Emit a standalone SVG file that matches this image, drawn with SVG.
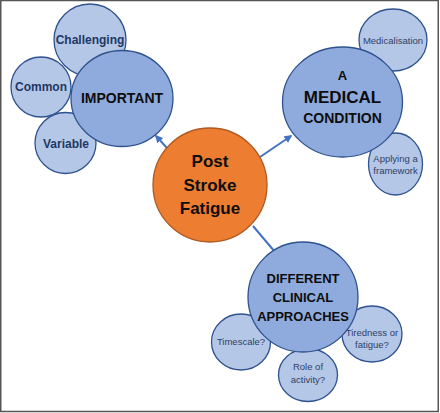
<svg xmlns="http://www.w3.org/2000/svg" width="440" height="413" viewBox="0 0 440 413">
<defs>
<style>
.main{fill:#8FAADC;stroke:#2F528F;stroke-width:1.3}
.sub{fill:#B4C7E7;stroke:#2F528F;stroke-width:1.3}
.core{fill:#ED7D31;stroke:#AE5A21;stroke-width:1.3}
.t{font-family:"Liberation Sans",Arial,sans-serif;text-anchor:middle}
.big{font-weight:bold;fill:#0D0D0D}
.sb{font-weight:bold;fill:#1F3864;font-size:12px}
.sr{fill:#2F3F66;font-size:9.5px}
.con{stroke:#4472C4;stroke-width:2;fill:none}
</style>
<marker id="ah" viewBox="0 0 10 10" refX="8" refY="5" markerWidth="4" markerHeight="4" orient="auto">
<path d="M0,0 L10,5 L0,10 z" fill="#4472C4"/>
</marker>
</defs>
<rect x="0.75" y="0.5" width="437.5" height="411" fill="#FFFFFF" stroke="#555555" stroke-width="1.5"/>
<g id="connectors">
<line class="con" x1="167" y1="148" x2="156" y2="136" marker-end="url(#ah)"/>
<line class="con" x1="260" y1="157" x2="291" y2="136" marker-end="url(#ah)"/>
<line class="con" x1="253" y1="226" x2="275" y2="252"/>
</g>
<g id="challenging"><circle class="sub" cx="90" cy="40" r="36"/><text class="t sb" x="90" y="44">Challenging</text></g>
<g id="common"><circle class="sub" cx="41" cy="87" r="30"/><text class="t sb" x="41" y="91">Common</text></g>
<g id="variable"><circle class="sub" cx="65.5" cy="143" r="30.5"/><text class="t sb" x="66" y="148">Variable</text></g>
<g id="important"><ellipse class="main" cx="122" cy="98.5" rx="51" ry="48"/><text class="t big" x="122" y="103" font-size="14">IMPORTANT</text></g>
<g id="medicalisation"><ellipse class="sub" cx="393" cy="40" rx="34" ry="31"/><text class="t sr" x="393" y="43.5">Medicalisation</text></g>
<g id="framework"><ellipse class="sub" cx="395.5" cy="164" rx="27" ry="31"/><text class="t sr" x="395.5" y="161.5">Applying a</text><text class="t sr" x="395.5" y="173.5">framework</text></g>
<g id="medical"><ellipse class="main" cx="342.5" cy="102" rx="60" ry="55"/>
<text class="t big" x="342.5" y="79.5" font-size="13">A</text>
<text class="t big" x="342.5" y="103" font-size="17">MEDICAL</text>
<text class="t big" x="342.5" y="123" font-size="14">CONDITION</text></g>
<g id="timescale"><ellipse class="sub" cx="241" cy="342" rx="29.5" ry="28"/><text class="t sr" x="241" y="345" font-size="9">Timescale?</text></g>
<g id="role"><ellipse class="sub" cx="308" cy="375" rx="29.5" ry="26.5"/><text class="t sr" x="308" y="370">Role of</text><text class="t sr" x="308" y="382.5">activity?</text></g>
<g id="tiredness"><ellipse class="sub" cx="372" cy="334" rx="30" ry="28"/><text class="t sr" x="372" y="336">Tiredness or</text><text class="t sr" x="372" y="347.5">fatigue?</text></g>
<g id="different"><circle class="main" cx="303" cy="297" r="55"/>
<text class="t big" x="303" y="283" font-size="13">DIFFERENT</text>
<text class="t big" x="303" y="302" font-size="13">CLINICAL</text>
<text class="t big" x="303" y="321" font-size="13">APPROACHES</text></g>
<g id="post-stroke-fatigue"><circle class="core" cx="210" cy="185" r="57"/>
<text class="t big" x="210" y="167" font-size="17">Post</text>
<text class="t big" x="210" y="191" font-size="17">Stroke</text>
<text class="t big" x="210" y="214" font-size="17">Fatigue</text></g>
</svg>
